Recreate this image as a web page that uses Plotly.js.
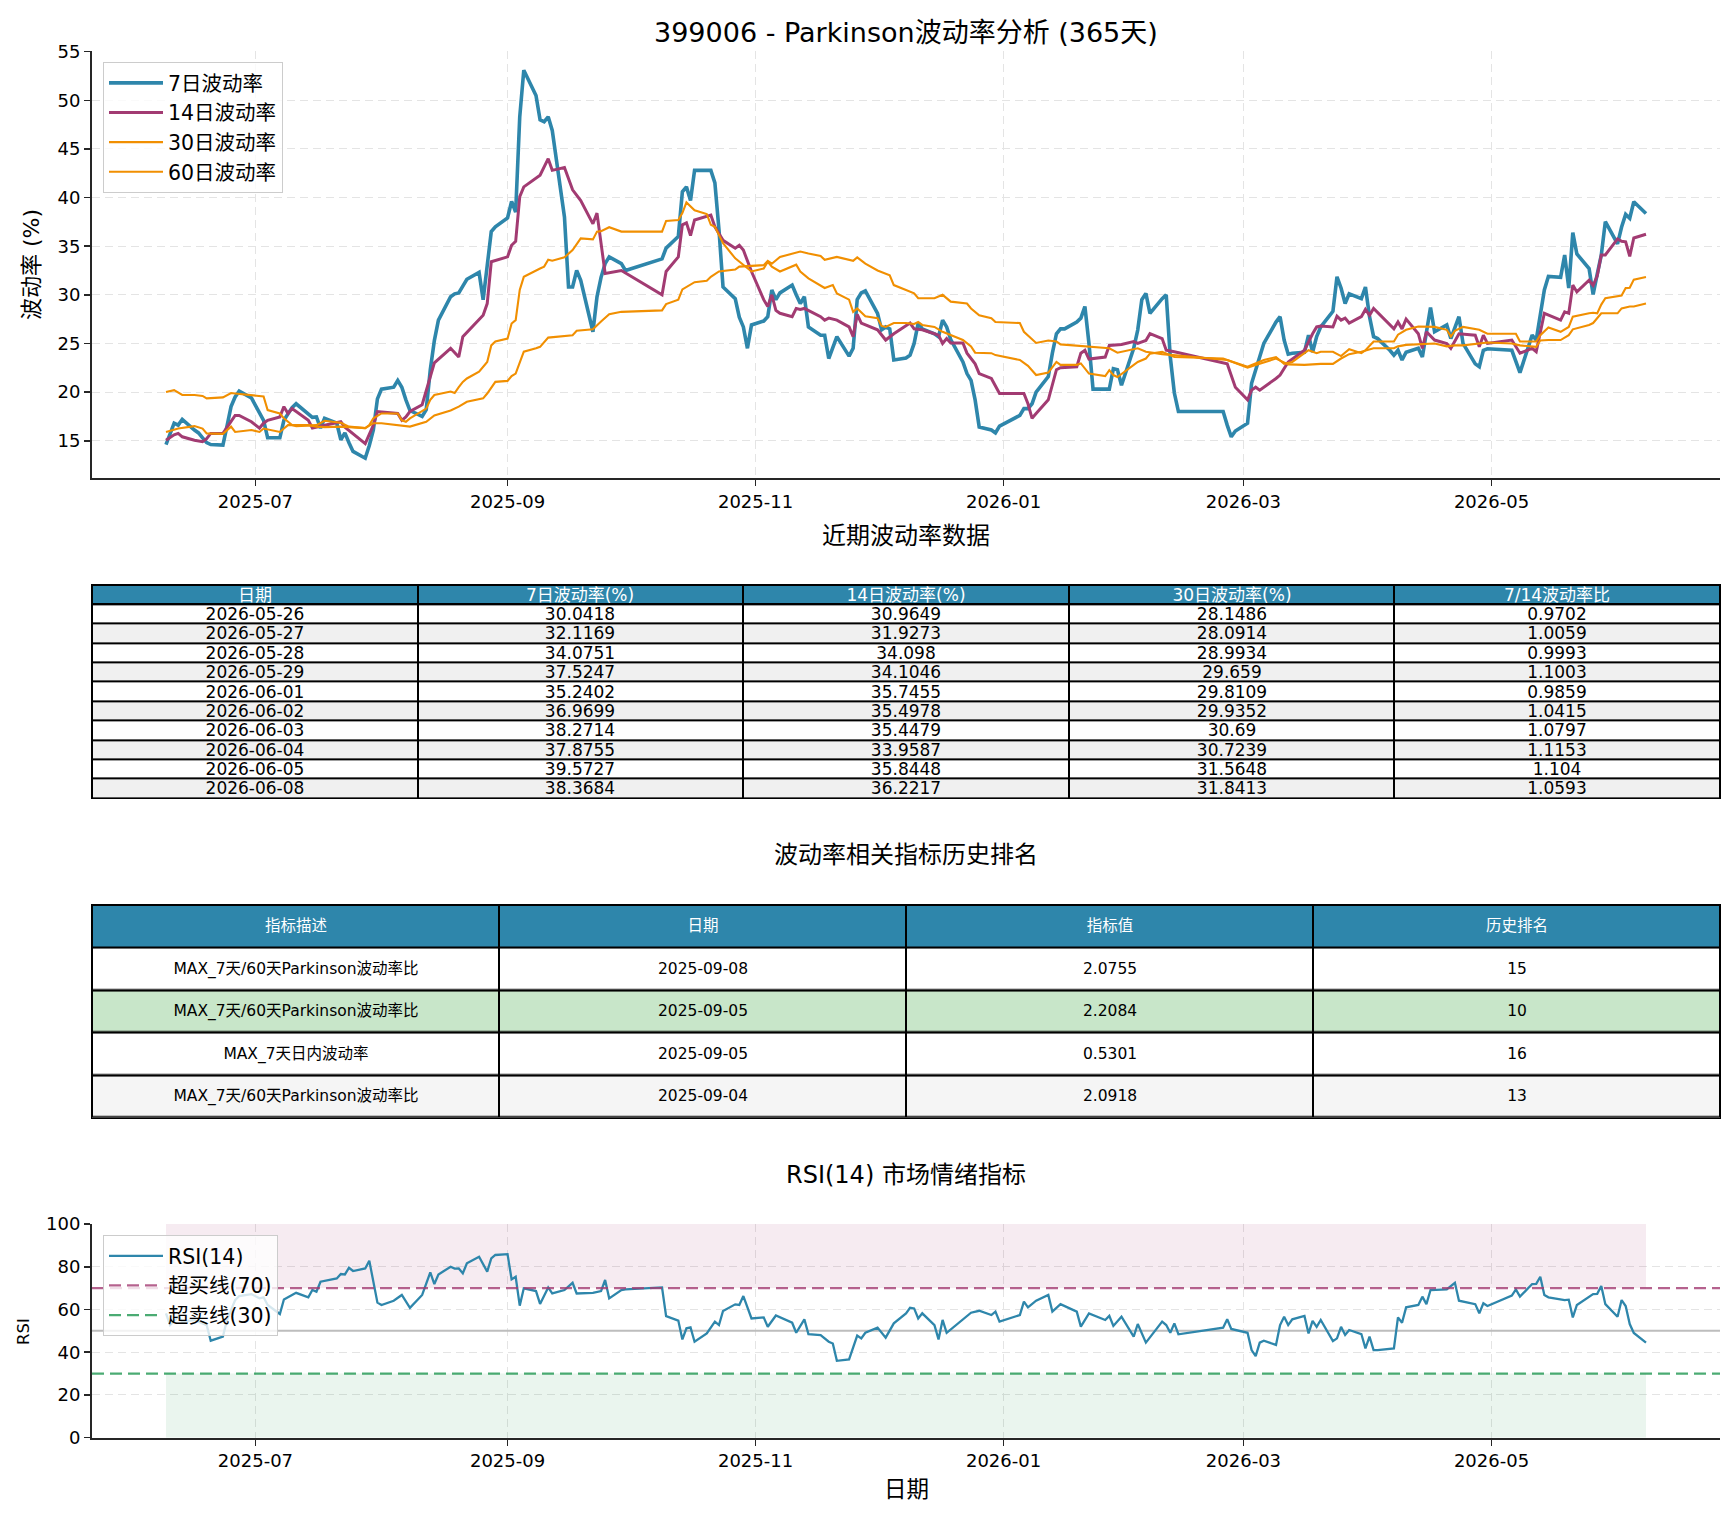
<!DOCTYPE html>
<html>
<head>
<meta charset="utf-8">
<script src="https://cdn.plot.ly/plotly-3.0.1.min.js"></script>
<style>
  html, body { margin: 0; padding: 0; background: #ffffff; }
  #chart { width: 1734px; height: 1516px; }
</style>
</head>
<body>
<div id="chart"></div>
<script>
// ---------------- DATA ----------------
const seriesNames = ['7日波动率', '14日波动率', '30日波动率', '60日波动率'];

// 7-day Parkinson volatility (%) (last 10 days come from the table)
const vol7Points = [
['2025-06-09',14.6],['2025-06-10',15.8],['2025-06-11',16.8],['2025-06-12',16.6],['2025-06-13',17.2],['2025-06-16',16.1],['2025-06-17',15.8],['2025-06-18',15.3],['2025-06-19',14.8],['2025-06-20',14.6],['2025-06-23',14.55],['2025-06-24',16.5],['2025-06-25',18.5],['2025-06-26',19.5],['2025-06-27',20.1],['2025-06-30',19.4],['2025-07-01',18.6],['2025-07-02',17.8],['2025-07-03',17.1],['2025-07-04',15.3],['2025-07-07',15.3],['2025-07-08',17.1],['2025-07-09',17.8],['2025-07-10',18.4],['2025-07-11',18.8],['2025-07-14',17.8],['2025-07-15',17.4],['2025-07-16',17.45],['2025-07-17',16.3],['2025-07-18',17.3],['2025-07-21',16.8],['2025-07-22',15.1],['2025-07-23',15.8],['2025-07-24',14.8],['2025-07-25',13.9],['2025-07-28',13.2],['2025-07-29',14.5],['2025-07-30',16.1],['2025-07-31',19.3],['2025-08-01',20.3],['2025-08-04',20.5],['2025-08-05',21.2],['2025-08-06',20.5],['2025-08-07',19.2],['2025-08-08',18.1],['2025-08-11',17.5],['2025-08-12',18.2],['2025-08-13',22.3],['2025-08-14',25.3],['2025-08-15',27.4],['2025-08-18',29.8],['2025-08-19',30.1],['2025-08-20',30.2],['2025-08-21',30.9],['2025-08-22',31.6],['2025-08-25',32.3],['2025-08-26',29.5],['2025-08-27',33.0],['2025-08-28',36.5],['2025-08-29',37.0],['2025-09-01',37.9],['2025-09-02',39.6],['2025-09-03',38.5],['2025-09-04',48.3],['2025-09-05',53.1],['2025-09-08',50.5],['2025-09-09',48.0],['2025-09-10',47.8],['2025-09-11',48.3],['2025-09-12',46.9],['2025-09-15',38.0],['2025-09-16',30.8],['2025-09-17',30.8],['2025-09-18',32.5],['2025-09-19',31.5],['2025-09-22',26.2],['2025-09-23',29.8],['2025-09-24',31.8],['2025-09-25',33.2],['2025-09-26',33.9],['2025-09-29',33.2],['2025-09-30',32.5],['2025-10-09',33.7],['2025-10-10',34.8],['2025-10-13',36.0],['2025-10-14',40.6],['2025-10-15',41.1],['2025-10-16',39.7],['2025-10-17',42.8],['2025-10-20',42.8],['2025-10-21',42.8],['2025-10-22',41.5],['2025-10-23',36.7],['2025-10-24',30.8],['2025-10-27',29.6],['2025-10-28',27.7],['2025-10-29',26.7],['2025-10-30',24.5],['2025-10-31',26.9],['2025-11-03',27.3],['2025-11-04',27.75],['2025-11-05',30.5],['2025-11-06',29.5],['2025-11-07',30.2],['2025-11-10',31.0],['2025-11-11',30.0],['2025-11-12',29.1],['2025-11-13',29.8],['2025-11-14',26.7],['2025-11-17',25.85],['2025-11-18',25.85],['2025-11-19',23.45],['2025-11-20',24.5],['2025-11-21',25.7],['2025-11-24',23.7],['2025-11-25',24.5],['2025-11-26',29.5],['2025-11-27',30.2],['2025-11-28',30.4],['2025-12-01',28.1],['2025-12-02',26.4],['2025-12-03',26.7],['2025-12-04',26.5],['2025-12-05',23.3],['2025-12-08',23.5],['2025-12-09',23.8],['2025-12-10',25.0],['2025-12-11',27.1],['2025-12-12',26.5],['2025-12-15',26.0],['2025-12-16',25.7],['2025-12-17',27.4],['2025-12-18',26.7],['2025-12-19',25.4],['2025-12-22',23.1],['2025-12-23',21.9],['2025-12-24',21.2],['2025-12-25',19.2],['2025-12-26',16.4],['2025-12-29',16.1],['2025-12-30',15.8],['2025-12-31',16.5],['2026-01-05',17.6],['2026-01-06',18.3],['2026-01-07',18.3],['2026-01-08',18.8],['2026-01-09',20.0],['2026-01-12',21.6],['2026-01-13',24.0],['2026-01-14',26.0],['2026-01-15',26.5],['2026-01-16',26.5],['2026-01-19',27.2],['2026-01-20',27.6],['2026-01-21',28.8],['2026-01-22',25.0],['2026-01-23',20.3],['2026-01-26',20.3],['2026-01-27',20.3],['2026-01-28',22.4],['2026-01-29',22.3],['2026-01-30',20.7],['2026-02-02',24.5],['2026-02-03',26.4],['2026-02-04',29.5],['2026-02-05',30.15],['2026-02-06',28.1],['2026-02-09',29.6],['2026-02-10',30.0],['2026-02-11',23.6],['2026-02-12',19.9],['2026-02-13',18.0],['2026-02-24',18.0],['2026-02-25',16.6],['2026-02-26',15.4],['2026-02-27',16.0],['2026-03-02',16.8],['2026-03-03',20.9],['2026-03-04',22.3],['2026-03-05',23.6],['2026-03-06',25.0],['2026-03-09',27.2],['2026-03-10',27.75],['2026-03-11',25.35],['2026-03-12',23.9],['2026-03-13',24.0],['2026-03-16',24.1],['2026-03-17',25.85],['2026-03-18',24.1],['2026-03-19',25.7],['2026-03-20',26.7],['2026-03-23',28.3],['2026-03-24',31.85],['2026-03-25',30.7],['2026-03-26',29.1],['2026-03-27',30.1],['2026-03-30',29.6],['2026-03-31',30.8],['2026-04-01',27.75],['2026-04-02',25.7],['2026-04-03',25.5],['2026-04-06',24.3],['2026-04-07',23.8],['2026-04-08',24.3],['2026-04-09',23.3],['2026-04-10',24.1],['2026-04-13',24.5],['2026-04-14',23.6],['2026-04-16',28.7],['2026-04-17',26.2],['2026-04-20',26.9],['2026-04-21',25.5],['2026-04-23',27.75],['2026-04-24',25.0],['2026-04-27',22.9],['2026-04-28',22.6],['2026-04-29',24.3],['2026-04-30',24.45],['2026-05-06',24.3],['2026-05-08',22.0],['2026-05-11',25.85],['2026-05-12',25.35],['2026-05-14',30.5],['2026-05-15',31.9],['2026-05-18',31.8],['2026-05-19',34.1],['2026-05-20',30.7],['2026-05-21',36.4],['2026-05-22',34.2],['2026-05-25',32.7]
];

const vol14Points = [
['2025-06-09',15.05],['2025-06-11',15.6],['2025-06-12',15.75],['2025-06-13',15.4],['2025-06-16',15.05],['2025-06-18',14.9],['2025-06-19',15.2],['2025-06-20',15.75],['2025-06-23',15.75],['2025-06-26',17.6],['2025-06-27',17.6],['2025-06-30',16.95],['2025-07-02',16.3],['2025-07-03',16.8],['2025-07-04',17.1],['2025-07-07',17.45],['2025-07-08',18.5],['2025-07-09',17.8],['2025-07-10',18.3],['2025-07-14',17.1],['2025-07-15',16.3],['2025-07-18',16.6],['2025-07-22',16.95],['2025-07-23',16.4],['2025-07-28',14.7],['2025-07-30',16.6],['2025-07-31',18.0],['2025-08-05',17.8],['2025-08-06',17.1],['2025-08-07',17.45],['2025-08-08',18.0],['2025-08-11',18.7],['2025-08-13',21.4],['2025-08-14',23.0],['2025-08-18',24.5],['2025-08-19',24.0],['2025-08-20',23.6],['2025-08-21',25.7],['2025-08-26',27.9],['2025-08-27',29.1],['2025-08-28',33.4],['2025-09-01',33.9],['2025-09-02',35.1],['2025-09-03',35.5],['2025-09-04',40.1],['2025-09-05',41.1],['2025-09-08',42.0],['2025-09-09',42.3],['2025-09-11',44.0],['2025-09-12',42.8],['2025-09-15',43.1],['2025-09-17',40.8],['2025-09-19',39.7],['2025-09-22',37.3],['2025-09-23',38.4],['2025-09-24',35.3],['2025-09-25',32.2],['2025-09-29',32.5],['2025-10-09',30.0],['2025-10-10',32.4],['2025-10-13',33.9],['2025-10-14',37.2],['2025-10-15',37.4],['2025-10-16',36.1],['2025-10-17',37.7],['2025-10-21',38.2],['2025-10-22',37.0],['2025-10-24',35.6],['2025-10-27',34.8],['2025-10-28',35.1],['2025-10-29',34.6],['2025-10-31',32.4],['2025-11-03',29.5],['2025-11-04',28.8],['2025-11-05',30.0],['2025-11-06',28.4],['2025-11-07',28.1],['2025-11-10',27.75],['2025-11-11',28.6],['2025-11-12',28.5],['2025-11-13',28.6],['2025-11-17',27.75],['2025-11-18',27.4],['2025-11-19',27.6],['2025-11-21',27.4],['2025-11-24',26.7],['2025-11-25',25.7],['2025-11-26',28.0],['2025-11-27',27.1],['2025-12-01',26.4],['2025-12-03',25.35],['2025-12-05',26.0],['2025-12-09',27.1],['2025-12-10',26.5],['2025-12-12',26.4],['2025-12-15',26.0],['2025-12-16',25.85],['2025-12-17',25.0],['2025-12-18',25.5],['2025-12-19',25.05],['2025-12-22',25.05],['2025-12-23',24.0],['2025-12-25',22.9],['2025-12-26',21.9],['2025-12-29',21.4],['2025-12-31',19.85],['2026-01-06',19.85],['2026-01-07',18.8],['2026-01-08',17.3],['2026-01-09',17.8],['2026-01-12',19.2],['2026-01-14',22.3],['2026-01-15',22.5],['2026-01-19',22.6],['2026-01-20',24.0],['2026-01-21',24.3],['2026-01-22',23.4],['2026-01-26',23.6],['2026-01-27',24.8],['2026-01-30',24.9],['2026-02-02',25.2],['2026-02-03',25.0],['2026-02-05',25.3],['2026-02-06',26.0],['2026-02-09',25.5],['2026-02-10',24.3],['2026-02-12',24.15],['2026-02-25',22.9],['2026-02-27',20.5],['2026-03-02',19.2],['2026-03-03',20.2],['2026-03-04',20.5],['2026-03-05',20.2],['2026-03-09',21.4],['2026-03-10',21.75],['2026-03-12',23.1],['2026-03-16',24.3],['2026-03-18',26.0],['2026-03-19',26.7],['2026-03-20',26.8],['2026-03-23',26.7],['2026-03-24',27.8],['2026-03-25',27.4],['2026-03-26',27.6],['2026-03-27',27.1],['2026-03-30',27.75],['2026-03-31',28.5],['2026-04-01',27.9],['2026-04-02',28.6],['2026-04-07',26.5],['2026-04-08',27.2],['2026-04-09',26.5],['2026-04-10',27.5],['2026-04-13',26.0],['2026-04-14',24.5],['2026-04-15',26.2],['2026-04-17',25.35],['2026-04-20',25.0],['2026-04-21',24.5],['2026-04-23',26.0],['2026-04-27',25.85],['2026-04-28',24.65],['2026-04-29',25.85],['2026-04-30',25.0],['2026-05-06',25.35],['2026-05-08',24.0],['2026-05-11',24.5],['2026-05-12',24.15],['2026-05-14',28.1],['2026-05-18',27.4],['2026-05-19',28.25],['2026-05-20',28.1],['2026-05-21',31.0],['2026-05-22',30.3],['2026-05-25',31.5]
];

const vol30Points = [
['2025-06-09',20.0],['2025-06-11',20.2],['2025-06-13',19.7],['2025-06-16',19.7],['2025-06-18',19.6],['2025-06-19',19.35],['2025-06-23',19.45],['2025-06-25',19.9],['2025-06-26',19.85],['2025-06-30',19.7],['2025-07-02',19.6],['2025-07-03',19.55],['2025-07-04',18.15],['2025-07-07',17.8],['2025-07-08',17.3],['2025-07-10',16.6],['2025-07-11',16.5],['2025-07-16',16.6],['2025-07-18',17.05],['2025-07-22',16.85],['2025-07-24',16.45],['2025-07-28',16.3],['2025-07-29',16.6],['2025-07-30',17.3],['2025-08-01',17.8],['2025-08-05',17.8],['2025-08-06',17.1],['2025-08-07',16.95],['2025-08-08',17.3],['2025-08-12',18.3],['2025-08-13',19.2],['2025-08-14',19.7],['2025-08-18',20.05],['2025-08-19',19.9],['2025-08-20',20.5],['2025-08-21',21.05],['2025-08-22',21.4],['2025-08-25',22.1],['2025-08-27',23.1],['2025-08-28',24.8],['2025-08-29',25.2],['2025-09-01',25.5],['2025-09-02',27.05],['2025-09-03',27.4],['2025-09-04',30.5],['2025-09-05',31.85],['2025-09-09',32.7],['2025-09-10',32.9],['2025-09-11',33.6],['2025-09-12',33.5],['2025-09-15',33.85],['2025-09-17',34.6],['2025-09-19',35.8],['2025-09-22',35.7],['2025-09-23',36.5],['2025-09-24',36.55],['2025-09-26',36.95],['2025-09-29',36.5],['2025-10-09',36.5],['2025-10-10',37.6],['2025-10-13',37.7],['2025-10-14',38.4],['2025-10-15',39.5],['2025-10-16',39.1],['2025-10-17',38.7],['2025-10-20',38.3],['2025-10-21',37.2],['2025-10-22',37.0],['2025-10-24',35.3],['2025-10-27',33.75],['2025-10-29',33.1],['2025-10-31',32.4],['2025-11-03',32.7],['2025-11-04',33.4],['2025-11-05',32.9],['2025-11-07',32.4],['2025-11-11',33.1],['2025-11-12',32.4],['2025-11-14',31.7],['2025-11-18',30.7],['2025-11-20',31.0],['2025-11-21',30.15],['2025-11-24',29.5],['2025-11-25',28.25],['2025-11-26',28.6],['2025-11-28',27.8],['2025-12-01',27.6],['2025-12-02',26.8],['2025-12-03',26.7],['2025-12-05',27.1],['2025-12-08',27.1],['2025-12-10',27.0],['2025-12-11',27.2],['2025-12-12',26.9],['2025-12-15',26.7],['2025-12-17',26.2],['2025-12-22',25.35],['2025-12-24',24.7],['2025-12-25',24.05],['2025-12-29',24.0],['2025-12-30',23.8],['2026-01-05',23.3],['2026-01-07',22.7],['2026-01-09',21.75],['2026-01-12',22.0],['2026-01-14',23.1],['2026-01-15',22.8],['2026-01-19',22.8],['2026-01-20',22.95],['2026-01-22',21.9],['2026-01-26',21.65],['2026-01-27',22.25],['2026-01-28',21.75],['2026-01-29',21.55],['2026-02-03',23.1],['2026-02-05',23.45],['2026-02-06',23.95],['2026-02-09',24.15],['2026-02-12',23.6],['2026-02-24',23.45],['2026-02-25',23.3],['2026-03-02',22.6],['2026-03-06',23.3],['2026-03-09',23.6],['2026-03-11',22.9],['2026-03-13',23.1],['2026-03-17',24.3],['2026-03-19',24.0],['2026-03-20',24.15],['2026-03-23',24.15],['2026-03-25',23.7],['2026-03-27',24.4],['2026-03-30',24.0],['2026-03-31',24.3],['2026-04-02',25.2],['2026-04-07',25.2],['2026-04-08',25.9],['2026-04-10',26.4],['2026-04-13',26.75],['2026-04-17',26.7],['2026-04-20',26.4],['2026-04-21',25.7],['2026-04-22',26.3],['2026-04-24',26.7],['2026-04-28',26.4],['2026-04-30',26.0],['2026-05-07',26.0],['2026-05-08',25.2],['2026-05-12',25.2],['2026-05-13',25.85],['2026-05-15',26.65],['2026-05-18',26.2],['2026-05-20',26.7],['2026-05-21',27.75],['2026-05-25',28.1]
];

const vol60Points = [
['2025-06-09',15.9],['2025-06-12',16.25],['2025-06-16',16.5],['2025-06-18',16.25],['2025-06-19',15.75],['2025-06-23',15.7],['2025-06-25',16.45],['2025-06-26',15.9],['2025-06-30',16.1],['2025-07-02',15.9],['2025-07-03',16.25],['2025-07-07',15.9],['2025-07-08',16.25],['2025-07-09',16.6],['2025-07-14',16.6],['2025-07-16',16.45],['2025-07-18',16.4],['2025-07-22',16.45],['2025-07-28',16.3],['2025-07-30',16.8],['2025-08-01',16.8],['2025-08-06',16.6],['2025-08-08',16.45],['2025-08-12',16.95],['2025-08-14',17.6],['2025-08-18',18.1],['2025-08-20',18.5],['2025-08-22',19.0],['2025-08-26',19.35],['2025-08-27',19.85],['2025-08-29',21.05],['2025-09-01',21.15],['2025-09-02',21.65],['2025-09-03',21.9],['2025-09-05',24.15],['2025-09-08',24.5],['2025-09-09',24.65],['2025-09-11',25.6],['2025-09-17',25.85],['2025-09-18',26.3],['2025-09-22',26.45],['2025-09-24',27.25],['2025-09-26',28.0],['2025-09-29',28.25],['2025-10-09',28.4],['2025-10-10',29.05],['2025-10-13',29.5],['2025-10-14',30.55],['2025-10-17',31.3],['2025-10-20',31.45],['2025-10-21',31.85],['2025-10-23',32.4],['2025-10-27',32.6],['2025-10-28',32.9],['2025-10-30',32.95],['2025-11-03',33.05],['2025-11-04',33.5],['2025-11-05',33.2],['2025-11-07',33.9],['2025-11-10',34.2],['2025-11-12',34.45],['2025-11-14',34.25],['2025-11-17',34.0],['2025-11-18',33.6],['2025-11-21',33.9],['2025-11-25',33.5],['2025-11-26',33.85],['2025-11-28',33.2],['2025-12-01',32.5],['2025-12-04',32.0],['2025-12-05',31.0],['2025-12-08',30.5],['2025-12-10',30.15],['2025-12-11',29.65],['2025-12-15',29.65],['2025-12-17',30.0],['2025-12-19',29.3],['2025-12-23',29.1],['2025-12-24',28.6],['2025-12-26',27.9],['2025-12-29',27.6],['2025-12-30',27.2],['2026-01-05',27.1],['2026-01-06',26.2],['2026-01-09',25.05],['2026-01-12',25.3],['2026-01-14',25.2],['2026-01-15',24.9],['2026-01-21',24.7],['2026-01-22',24.6],['2026-01-27',24.5],['2026-01-29',24.05],['2026-02-03',24.5],['2026-02-05',24.15],['2026-02-09',23.9],['2026-02-25',23.3],['2026-03-02',22.5],['2026-03-05',22.9],['2026-03-09',23.45],['2026-03-12',22.85],['2026-03-16',22.8],['2026-03-20',22.9],['2026-03-23',22.9],['2026-03-25',23.45],['2026-03-27',23.9],['2026-03-30',24.15],['2026-04-02',24.5],['2026-04-07',24.5],['2026-04-08',24.7],['2026-04-10',24.85],['2026-04-13',24.9],['2026-04-17',25.0],['2026-04-20',24.7],['2026-04-22',24.8],['2026-04-24',24.8],['2026-04-28',25.0],['2026-04-30',25.1],['2026-05-06',25.0],['2026-05-08',24.8],['2026-05-12',24.65],['2026-05-13',25.3],['2026-05-15',25.35],['2026-05-18',25.35],['2026-05-20',25.85],['2026-05-21',26.45],['2026-05-25',26.9],['2026-05-26',27.1],['2026-05-28',28.1],['2026-06-01',28.1],['2026-06-02',28.6],['2026-06-04',28.8],['2026-06-05',28.8],['2026-06-08',29.1]
];

// Recent-data table (also the last points of the 7/14/30-day series)
const tableHeaders = ['日期', '7日波动率(%)', '14日波动率(%)', '30日波动率(%)', '7/14波动率比'];
const tableDates = ['2026-05-26','2026-05-27','2026-05-28','2026-05-29','2026-06-01','2026-06-02','2026-06-03','2026-06-04','2026-06-05','2026-06-08'];
const table7 = [30.0418, 32.1169, 34.0751, 37.5247, 35.2402, 36.9699, 38.2714, 37.8755, 39.5727, 38.3684];
const table14 = [30.9649, 31.9273, 34.098, 34.1046, 35.7455, 35.4978, 35.4479, 33.9587, 35.8448, 36.2217];
const table30 = [28.1486, 28.0914, 28.9934, 29.659, 29.8109, 29.9352, 30.69, 30.7239, 31.5648, 31.8413];
const tableRatio = [0.9702, 1.0059, 0.9993, 1.1003, 0.9859, 1.0415, 1.0797, 1.1153, 1.104, 1.0593];

// Ranking table
const rankHeaders = ['指标描述', '日期', '指标值', '历史排名'];
const rankDesc = ['MAX_7天/60天Parkinson波动率比', 'MAX_7天/60天Parkinson波动率比', 'MAX_7天日内波动率', 'MAX_7天/60天Parkinson波动率比'];
const rankDates = ['2025-09-08', '2025-09-05', '2025-09-05', '2025-09-04'];
const rankValues = ['2.0755', '2.2084', '0.5301', '2.0918'];
const rankPlaces = [15, 10, 16, 13];

// RSI(14)
const rsiPoints = [
['2025-06-09',58.2],['2025-06-10',52.7],['2025-06-12',56.6],['2025-06-13',54.3],['2025-06-16',55.1],['2025-06-18',53.5],['2025-06-19',52.7],['2025-06-20',45.4],['2025-06-23',47.3],['2025-06-24',55.1],['2025-06-26',64.4],['2025-06-27',66.3],['2025-06-30',67.2],['2025-07-02',65.2],['2025-07-03',65.7],['2025-07-04',62.1],['2025-07-07',57.9],['2025-07-08',64.7],['2025-07-09',65.7],['2025-07-11',67.8],['2025-07-14',65.7],['2025-07-15',69.1],['2025-07-16',68.3],['2025-07-17',73.0],['2025-07-21',74.5],['2025-07-22',76.6],['2025-07-23',76.4],['2025-07-24',79.5],['2025-07-25',78.0],['2025-07-28',79.2],['2025-07-29',82.8],['2025-07-31',63.2],['2025-08-01',62.1],['2025-08-04',64.1],['2025-08-06',66.8],['2025-08-08',60.8],['2025-08-11',66.8],['2025-08-13',77.4],['2025-08-14',71.9],['2025-08-15',76.4],['2025-08-18',80.0],['2025-08-19',79.1],['2025-08-20',79.2],['2025-08-21',76.9],['2025-08-22',81.6],['2025-08-25',84.7],['2025-08-27',77.7],['2025-08-28',83.9],['2025-08-29',85.5],['2025-09-01',85.9],['2025-09-02',74.1],['2025-09-03',75.3],['2025-09-04',61.8],['2025-09-05',69.9],['2025-09-08',68.6],['2025-09-09',62.6],['2025-09-11',70.3],['2025-09-12',67.5],['2025-09-15',69.1],['2025-09-17',72.5],['2025-09-18',67.5],['2025-09-22',67.8],['2025-09-24',68.6],['2025-09-25',73.8],['2025-09-26',65.2],['2025-09-29',69.1],['2025-09-30',69.4],['2025-10-09',70.3],['2025-10-10',56.9],['2025-10-13',54.8],['2025-10-14',46.0],['2025-10-15',51.2],['2025-10-16',51.6],['2025-10-17',44.9],['2025-10-20',48.8],['2025-10-22',54.3],['2025-10-23',52.7],['2025-10-24',59.3],['2025-10-27',62.4],['2025-10-28',62.1],['2025-10-29',66.3],['2025-10-31',55.8],['2025-11-03',56.3],['2025-11-04',51.9],['2025-11-06',57.2],['2025-11-10',53.8],['2025-11-11',49.1],['2025-11-13',55.4],['2025-11-14',48.5],['2025-11-17',48.0],['2025-11-19',44.9],['2025-11-20',44.1],['2025-11-21',36.0],['2025-11-24',36.6],['2025-11-26',47.8],['2025-11-27',46.5],['2025-11-28',49.1],['2025-12-01',51.5],['2025-12-03',46.8],['2025-12-05',53.5],['2025-12-08',58.2],['2025-12-09',60.8],['2025-12-10',60.5],['2025-12-11',55.8],['2025-12-12',58.2],['2025-12-15',52.7],['2025-12-16',46.0],['2025-12-17',55.1],['2025-12-18',49.1],['2025-12-22',55.1],['2025-12-24',58.5],['2025-12-26',59.4],['2025-12-29',57.4],['2025-12-30',59.0],['2025-12-31',54.3],['2026-01-05',57.4],['2026-01-06',63.7],['2026-01-07',61.0],['2026-01-09',64.1],['2026-01-12',66.8],['2026-01-13',59.0],['2026-01-15',62.5],['2026-01-19',59.0],['2026-01-20',52.0],['2026-01-22',58.2],['2026-01-26',55.1],['2026-01-27',57.0],['2026-01-28',52.3],['2026-01-30',56.6],['2026-02-02',47.3],['2026-02-03',53.2],['2026-02-05',44.5],['2026-02-09',54.3],['2026-02-10',52.7],['2026-02-11',49.1],['2026-02-12',53.5],['2026-02-13',48.4],['2026-02-24',51.5],['2026-02-25',55.4],['2026-02-26',50.9],['2026-03-02',49.1],['2026-03-03',41.0],['2026-03-04',38.2],['2026-03-05',44.5],['2026-03-06',45.4],['2026-03-09',43.4],['2026-03-10',52.7],['2026-03-11',56.6],['2026-03-12',52.7],['2026-03-13',55.4],['2026-03-16',57.0],['2026-03-17',48.8],['2026-03-18',54.7],['2026-03-19',51.9],['2026-03-20',55.1],['2026-03-23',45.2],['2026-03-24',46.5],['2026-03-25',51.9],['2026-03-26',48.1],['2026-03-27',50.4],['2026-03-30',48.5],['2026-03-31',41.8],['2026-04-01',47.3],['2026-04-02',41.0],['2026-04-03',41.0],['2026-04-07',41.8],['2026-04-08',56.3],['2026-04-09',53.8],['2026-04-10',61.0],['2026-04-13',62.1],['2026-04-14',66.0],['2026-04-15',62.5],['2026-04-16',69.1],['2026-04-20',69.4],['2026-04-22',72.5],['2026-04-23',64.1],['2026-04-27',62.5],['2026-04-28',58.2],['2026-04-29',62.9],['2026-04-30',61.6],['2026-05-06',66.5],['2026-05-07',69.4],['2026-05-08',66.0],['2026-05-11',71.9],['2026-05-12',72.0],['2026-05-13',75.3],['2026-05-14',66.8],['2026-05-15',65.7],['2026-05-19',64.4],['2026-05-20',64.6],['2026-05-21',56.3],['2026-05-22',62.1],['2026-05-25',66.0],['2026-05-26',67.2],['2026-05-27',67.3],['2026-05-28',71.0],['2026-05-29',62.5],['2026-06-01',56.6],['2026-06-02',64.4],['2026-06-03',61.6],['2026-06-04',53.2],['2026-06-05',49.0],['2026-06-08',44.5]
];
const rsiLevels = { overbought: 70, oversold: 30, middle: 50, top: 100, bottom: 0 };
const rsiNames = ['RSI(14)', '超买线(70)', '超卖线(30)'];

const xTickVals = ['2025-07-01', '2025-09-01', '2025-11-01', '2026-01-01', '2026-03-01', '2026-05-01'];
const volTickVals = [15, 20, 25, 30, 35, 40, 45, 50, 55];
const rsiTickVals = [0, 20, 40, 60, 80, 100];

// ---------------- BUILD ----------------
const FONT = 'DejaVu Sans, Noto Sans CJK SC, sans-serif';
const W = 1734, H = 1516;
const colors = { c7: '#2E86AB', c14: '#A23B72', c30: '#F18F01', c60: '#F18F01', header: '#2E86AB' };

function px2x(p) { return p / W; }
function px2y(p) { return (H - p) / H; }
function toMs(s) { const a = s.split('-').map(Number); return Date.UTC(a[0], a[1] - 1, a[2]); }
function msStr(ms) {
  const d = new Date(ms), p = n => String(n).padStart(2, '0');
  return d.getUTCFullYear() + '-' + p(d.getUTCMonth() + 1) + '-' + p(d.getUTCDate()) + ' ' +
    p(d.getUTCHours()) + ':' + p(d.getUTCMinutes()) + ':' + p(d.getUTCSeconds());
}
const xs = pts => pts.map(p => p[0]);
const ys = pts => pts.map(p => p[1]);

const firstDate = vol7Points[0][0];
const lastDate = tableDates[tableDates.length - 1];
const span = toMs(lastDate) - toMs(firstDate);
const xRange = [msStr(toMs(firstDate) - 0.05 * span), msStr(toMs(lastDate) + 0.05 * span)];

const XDOM = [px2x(92), px2x(1720)];

const data = [];
// top chart lines
data.push({ type: 'scatter', mode: 'lines', name: seriesNames[0], legendgroup: 'g7', x: xs(vol7Points).concat(tableDates), y: ys(vol7Points).concat(table7),
  line: { color: colors.c7, width: 3.6 }, xaxis: 'x', yaxis: 'y', hoverinfo: 'skip' });
data.push({ type: 'scatter', mode: 'lines', name: seriesNames[1], legendgroup: 'g14', x: xs(vol14Points).concat(tableDates), y: ys(vol14Points).concat(table14),
  line: { color: colors.c14, width: 3 }, xaxis: 'x', yaxis: 'y', hoverinfo: 'skip' });
data.push({ type: 'scatter', mode: 'lines', name: seriesNames[2], legendgroup: 'g30', x: xs(vol30Points).concat(tableDates), y: ys(vol30Points).concat(table30),
  line: { color: colors.c30, width: 2.1 }, xaxis: 'x', yaxis: 'y', hoverinfo: 'skip' });
data.push({ type: 'scatter', mode: 'lines', name: seriesNames[3], legendgroup: 'g60', x: xs(vol60Points), y: ys(vol60Points),
  line: { color: colors.c60, width: 2.1 }, xaxis: 'x', yaxis: 'y', hoverinfo: 'skip' });

// RSI zones
const rsiX = xs(rsiPoints);
const zoneX = [rsiX[0], rsiX[rsiX.length - 1]];
data.push({ type: 'scatter', mode: 'lines', x: zoneX, y: [rsiLevels.top, rsiLevels.top], line: { width: 0, color: 'rgba(0,0,0,0)' },
  xaxis: 'x2', yaxis: 'y2', showlegend: false, hoverinfo: 'skip' });
data.push({ type: 'scatter', mode: 'lines', x: zoneX, y: [rsiLevels.overbought, rsiLevels.overbought], line: { width: 0, color: 'rgba(0,0,0,0)' },
  fill: 'tonexty', fillcolor: 'rgba(162,59,114,0.10)', xaxis: 'x2', yaxis: 'y2', showlegend: false, hoverinfo: 'skip' });
data.push({ type: 'scatter', mode: 'lines', x: zoneX, y: [rsiLevels.oversold, rsiLevels.oversold], line: { width: 0, color: 'rgba(0,0,0,0)' },
  xaxis: 'x2', yaxis: 'y2', showlegend: false, hoverinfo: 'skip' });
data.push({ type: 'scatter', mode: 'lines', x: zoneX, y: [rsiLevels.bottom, rsiLevels.bottom], line: { width: 0, color: 'rgba(0,0,0,0)' },
  fill: 'tonexty', fillcolor: 'rgba(46,158,91,0.10)', xaxis: 'x2', yaxis: 'y2', showlegend: false, hoverinfo: 'skip' });
// middle line
data.push({ type: 'scatter', mode: 'lines', x: xRange, y: [rsiLevels.middle, rsiLevels.middle], line: { color: '#bdbdbd', width: 2 },
  xaxis: 'x2', yaxis: 'y2', showlegend: false, hoverinfo: 'skip' });
// RSI line + thresholds
data.push({ type: 'scatter', mode: 'lines', name: rsiNames[0], legendgroup: 'r1', x: rsiX, y: ys(rsiPoints), line: { color: '#2E86AB', width: 2.3 },
  xaxis: 'x2', yaxis: 'y2', legend: 'legend2', hoverinfo: 'skip' });
data.push({ type: 'scatter', mode: 'lines', name: rsiNames[1], legendgroup: 'r2', x: xRange, y: [rsiLevels.overbought, rsiLevels.overbought],
  line: { color: 'rgba(162,59,114,0.8)', width: 2.2, dash: '12px,6px' }, xaxis: 'x2', yaxis: 'y2', legend: 'legend2', hoverinfo: 'skip' });
data.push({ type: 'scatter', mode: 'lines', name: rsiNames[2], legendgroup: 'r3', x: xRange, y: [rsiLevels.oversold, rsiLevels.oversold],
  line: { color: 'rgba(30,150,80,0.8)', width: 2.2, dash: '12px,6px' }, xaxis: 'x2', yaxis: 'y2', legend: 'legend2', hoverinfo: 'skip' });

// ---- Table 1 as heatmap cells ----
const t1Body = tableDates.map((d, i) => [d, String(table7[i]), String(table14[i]), String(table30[i]), String(tableRatio[i])]);
const nCol1 = tableHeaders.length, nRow1 = tableDates.length;
data.push({ type: 'heatmap', x0: (nCol1 - 1) / 2, dx: nCol1, y0: nRow1 / 2, dy: nRow1 + 1, z: [[0]],
  colorscale: [[0, '#000'], [1, '#000']], showscale: false, xaxis: 'x3', yaxis: 'y3', hoverinfo: 'skip' });
data.push({ type: 'heatmap', x: tableHeaders.map((_, i) => i), y: [0], z: [tableHeaders.map(() => 0)], text: [tableHeaders],
  texttemplate: '%{text}', textfont: { family: FONT, size: 17, color: '#ffffff' },
  colorscale: [[0, colors.header], [1, colors.header]], showscale: false, xgap: 2, ygap: 2, xaxis: 'x3', yaxis: 'y3', hoverinfo: 'skip' });
data.push({ type: 'heatmap', x: tableHeaders.map((_, i) => i), y: tableDates.map((_, i) => i + 1),
  z: tableDates.map((_, i) => tableHeaders.map(() => i % 2)), text: t1Body,
  texttemplate: '%{text}', textfont: { family: FONT, size: 17, color: '#000000' }, zmin: 0, zmax: 1,
  colorscale: [[0, '#ffffff'], [1, '#f0f0f0']], showscale: false, xgap: 2, ygap: 2, xaxis: 'x3', yaxis: 'y3', hoverinfo: 'skip' });

// ---- Table 2 as heatmap cells ----
const nCol2 = rankHeaders.length, nRow2 = rankDesc.length;
const t2Body = rankDesc.map((d, i) => [d, rankDates[i], rankValues[i], String(rankPlaces[i])]);
const t2Fill = rankPlaces.map((r, i) => rankHeaders.map(() => (r <= 10 ? 1 : (i % 2 ? 2 : 0))));
data.push({ type: 'heatmap', x0: (nCol2 - 1) / 2, dx: nCol2, y0: nRow2 / 2, dy: nRow2 + 1, z: [[0]],
  colorscale: [[0, '#000'], [1, '#000']], showscale: false, xaxis: 'x4', yaxis: 'y4', hoverinfo: 'skip' });
data.push({ type: 'heatmap', x: rankHeaders.map((_, i) => i), y: [0], z: [rankHeaders.map(() => 0)], text: [rankHeaders],
  texttemplate: '%{text}', textfont: { family: FONT, size: 15.5, color: '#ffffff' },
  colorscale: [[0, colors.header], [1, colors.header]], showscale: false, xgap: 2, ygap: 2.5, xaxis: 'x4', yaxis: 'y4', hoverinfo: 'skip' });
data.push({ type: 'heatmap', x: rankHeaders.map((_, i) => i), y: rankDesc.map((_, i) => i + 1), z: t2Fill, text: t2Body,
  texttemplate: '%{text}', textfont: { family: FONT, size: 15.5, color: '#000000' }, zmin: 0, zmax: 2,
  colorscale: [[0, '#ffffff'], [0.5, '#c8e6c9'], [1, '#f5f5f5']], showscale: false, xgap: 2, ygap: 2.5, xaxis: 'x4', yaxis: 'y4', hoverinfo: 'skip' });

// ---------------- LAYOUT ----------------
const AXC = '#262626';
const gridStyle = { showgrid: true, gridcolor: '#e4e4e4', gridwidth: 1, griddash: '8px,5px' };
const axisBase = { showline: true, linecolor: AXC, linewidth: 2, ticks: 'outside', ticklen: 6, tickwidth: 1.6, tickcolor: AXC,
  zeroline: false, tickfont: { family: FONT, size: 18, color: '#000' }, fixedrange: true };
const tableAxis = { showgrid: false, zeroline: false, showticklabels: false, ticks: '', showline: true, mirror: true,
  linecolor: '#000', linewidth: 1, fixedrange: true };

const legendBase = { xanchor: 'left', yanchor: 'top', bgcolor: 'rgba(255,255,255,0.8)', bordercolor: '#cccccc', borderwidth: 1,
  font: { family: FONT, size: 20.5, color: '#000' }, traceorder: 'normal', itemwidth: 54, tracegroupgap: 4.5 };

const annFont = (s) => ({ family: FONT, size: s, color: '#000' });
const layout = {
  width: W, height: H,
  margin: { l: 0, r: 0, t: 0, b: 0 },
  paper_bgcolor: '#ffffff', plot_bgcolor: '#ffffff',
  font: { family: FONT, color: '#000' },
  showlegend: true,
  xaxis: Object.assign({}, axisBase, gridStyle, { domain: XDOM, anchor: 'y', type: 'date', range: xRange,
    tickvals: xTickVals, tickformat: '%Y-%m' }),
  yaxis: Object.assign({}, axisBase, gridStyle, { domain: [px2y(478), px2y(51.2)], anchor: 'x', range: [11.165, 55.05],
    tickvals: volTickVals }),
  xaxis2: Object.assign({}, axisBase, gridStyle, { domain: XDOM, anchor: 'y2', type: 'date', range: xRange,
    tickvals: xTickVals, tickformat: '%Y-%m' }),
  yaxis2: Object.assign({}, axisBase, gridStyle, { domain: [px2y(1437.7), px2y(1224)], anchor: 'x2', range: [0, 100],
    tickvals: rsiTickVals }),
  xaxis3: Object.assign({}, tableAxis, { domain: XDOM, anchor: 'y3', range: [-0.5, nCol1 - 0.5] }),
  yaxis3: Object.assign({}, tableAxis, { domain: [px2y(798), px2y(585)], anchor: 'x3', range: [nRow1 + 0.5, -0.5] }),
  xaxis4: Object.assign({}, tableAxis, { domain: XDOM, anchor: 'y4', range: [-0.5, nCol2 - 0.5] }),
  yaxis4: Object.assign({}, tableAxis, { domain: [px2y(1117.7), px2y(905)], anchor: 'x4', range: [nRow2 + 0.5, -0.5] }),
  legend: Object.assign({}, legendBase, { x: px2x(103), y: px2y(62) }),
  legend2: Object.assign({}, legendBase, { x: px2x(103), y: px2y(1235) }),
  annotations: [
    { text: '399006 - Parkinson波动率分析 (365天)', xref: 'paper', yref: 'paper', x: px2x(906), y: px2y(33),
      xanchor: 'center', yanchor: 'middle', showarrow: false, font: annFont(27) },
    { text: '波动率 (%)', xref: 'paper', yref: 'paper', x: px2x(31), y: px2y(265), textangle: -90,
      xanchor: 'center', yanchor: 'middle', showarrow: false, font: annFont(22) },
    { text: '近期波动率数据', xref: 'paper', yref: 'paper', x: px2x(906), y: px2y(536),
      xanchor: 'center', yanchor: 'middle', showarrow: false, font: annFont(24) },
    { text: '波动率相关指标历史排名', xref: 'paper', yref: 'paper', x: px2x(906), y: px2y(855),
      xanchor: 'center', yanchor: 'middle', showarrow: false, font: annFont(24) },
    { text: 'RSI(14) 市场情绪指标', xref: 'paper', yref: 'paper', x: px2x(906), y: px2y(1175),
      xanchor: 'center', yanchor: 'middle', showarrow: false, font: annFont(24) },
    { text: 'RSI', xref: 'paper', yref: 'paper', x: px2x(23), y: px2y(1332), textangle: -90,
      xanchor: 'center', yanchor: 'middle', showarrow: false, font: annFont(16.5) },
    { text: '日期', xref: 'paper', yref: 'paper', x: px2x(906), y: px2y(1489),
      xanchor: 'center', yanchor: 'middle', showarrow: false, font: annFont(22.5) }
  ]
};

Plotly.newPlot('chart', data, layout, { staticPlot: true, displayModeBar: false });
</script>
</body>
</html>
